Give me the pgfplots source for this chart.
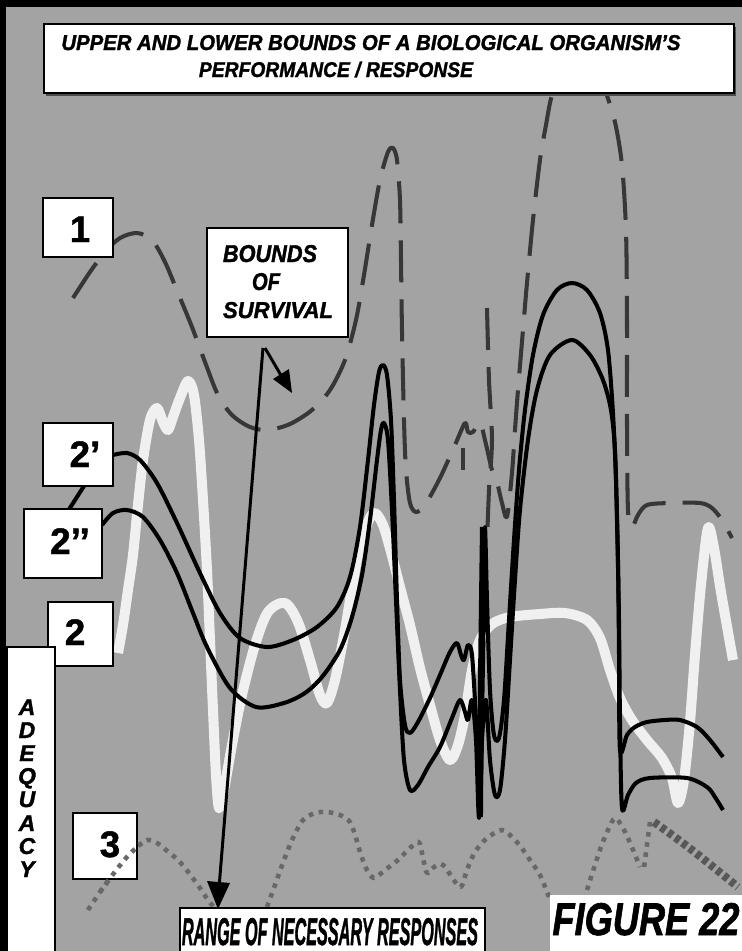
\documentclass[border=0pt]{standalone}
\usepackage{fontspec}
\setmainfont{Liberation Sans}
\newfontfamily\heavyfont{Liberation Sans}[BoldItalicFeatures={FakeBold=1.6}, BoldFeatures={FakeBold=1.2}]
\usepackage{graphicx}
\usepackage{pgfplots}
\pgfplotsset{compat=1.18}

% 1 px of the reference = 0.02 cm
\newlength\pxu \setlength\pxu{0.02cm}
\definecolor{bg}{RGB}{163,163,163}
\definecolor{dashc}{RGB}{55,55,55}
\definecolor{dotc}{RGB}{104,104,104}
\definecolor{pale}{RGB}{240,240,240}
\newcommand{\fit}[3]{\resizebox{#1\pxu}{#2\pxu}{\heavyfont\bfseries\itshape #3}}
\newcommand{\digit}[1]{{\fontsize{21}{21}\selectfont\heavyfont\bfseries #1}}
\newcommand{\lett}[1]{{\fontsize{13}{13}\selectfont\heavyfont\bfseries\itshape #1}}

\begin{document}
\begin{tikzpicture}
\begin{axis}[
    width=14.84cm, height=19.02cm, scale only axis,
    xmin=0, xmax=742, ymin=0, ymax=951, y dir=reverse,
    hide axis, clip=true,
    every axis plot/.append style={smooth, line join=round, mark=none},
  ]
  % background and frame
  \fill[bg] (axis cs:0,0) rectangle (axis cs:742,951);
  \fill[black] (axis cs:0,0) rectangle (axis cs:742,7);
  \fill[black] (axis cs:0,0) rectangle (axis cs:6,951);

  % --- curve 2: white ---
  \addplot[pale, line width=5.7pt] coordinates {
    (118,653) (123,625) (128,590) (133,555) (138,505) (143,460) (150,420)
    (157,408) (163,422) (168,430) (173,417) (180,398) (188,381) (194,395)
    (199,440) (203,500) (207,570) (210,640) (213,710) (216,775) (219,808)
    (224,790) (232,745) (242,695) (255,645) (268,612) (285,603) (298,622)
    (310,660) (320,695) (327,703) (335,680) (345,630) (357,560) (368,522)
    (375,513) (383,525) (391,552) (400,587) (410,625) (420,668) (430,705)
    (440,740) (450,760) (458,745) (465,715) (472,670) (480,640) (492,624)
    (510,617) (540,614) (565,613) (587,620) (600,638) (610,670) (620,698)
    (632,720) (647,740) (662,758) (672,778) (678,803) (684,780) (690,722)
    (695,655) (701,585) (708,528) (714,548) (721,592) (733,660)
  };

  % --- curve 3: dotted ---
  \addplot[dotc, line width=2.6pt, line cap=butt, dash pattern=on 2.6pt off 3.2pt] coordinates {
    (88,910) (100,892) (114,873) (126,858) (137,847) (147,840) (157,843)
    (166,850) (178,860) (189,873) (200,888) (208,900) (218,912)
  };
  \addplot[dotc, line width=2.6pt, line cap=butt, dash pattern=on 2.6pt off 3.2pt] coordinates {
    (267,907) (275,885) (284,860) (293,838) (303,820) (315,813) (327,812)
    (340,815) (350,822) (356,838) (361,855) (367,870) (374,878) (385,870)
    (398,860) (410,848) (419,842) (423,858) (427,873) (434,867) (441,864)
    (446,868) (453,879) (461,887) (467,870) (475,852) (487,838) (502,830)
    (512,837) (521,847) (530,860) (540,875) (549,897)
  };
  \addplot[dotc, line width=2.6pt, line cap=butt, dash pattern=on 2.6pt off 3.2pt] coordinates {
    (587,890) (594,868) (601,847) (608,830) (615,818) (623,828) (631,845) (640,867)
  };
  \addplot[dotc, line width=2.6pt, line cap=butt, dash pattern=on 2.6pt off 3.2pt] coordinates {
    (650,822) (647,845) (644,868)
  };
  \addplot[dotc!85!black, line width=4.6pt, line cap=butt, dash pattern=on 3pt off 2pt] coordinates {
    (654,822) (672,835) (692,850) (712,866) (738,887)
  };

  % --- curve 1: dashed ---
  \addplot[dashc, line width=2.3pt, dash pattern=on 23.9pt off 9.7pt] coordinates {
    (73,298) (90,272) (105,252) (120,238) (137,233) (152,240) (165,262)
    (178,293) (192,327) (205,362) (218,395) (232,415) (250,427) (268,430)
    (290,424) (312,410) (330,390) (345,360) (356,320) (364,275) (372,225)
    (380,180) (388,152) (393,148) (397,160) (400,200) (401,260) (402,330)
    (404,420) (406,470) (410,503) (416,512) (425,505) (440,478) (455,445)
    (465,423) (468,432) (473,432) (480,422) (485,440) (492,470) (497,482)
    (502,503) (507,517) (512,473) (515,430) (518,390) (523,330) (527,283)
    (533,220) (540,160) (546,125) (552,95) (565,62) (578,52) (592,60)
    (605,90) (615,122) (622,165) (626,230) (627,320) (627,420) (628,510)
    (632,527) (638,515) (647,505) (670,503) (700,503) (712,508) (722,520)
    (732,538)
  };
  \addplot[dashc, line width=2.3pt, dash pattern=on 23.9pt off 9.7pt] coordinates {
    (487,308) (489,380) (492,440) (489,490) (487,543)
  };
  \addplot[dashc, line width=2.8pt] coordinates {(463,448) (463,470)};

  % --- curve 2': upper black ---
  \addplot[black, line width=2.3pt] coordinates {
    (113,455) (127,453) (140,460) (157,483) (177,523) (200,573) (220,613)
    (240,638) (267,647) (293,640) (317,627) (337,607) (350,577) (360,527)
    (368,460) (374,405) (379,372) (383,365) (387,375) (391,420) (394,500)
    (397,600) (400,680) (405,725) (410,733) (418,722) (430,698) (440,675)
    (450,652) (457,643) (461,655) (464,660) (468,645) (472,655) (476,720)
    (480,815) (482,720) (484,600) (485,527) (487,600) (490,690) (494,735)
    (499,738) (504,700) (509,620) (514,540) (519,470) (525,410) (533,355)
    (543,315) (557,290) (572,283) (587,290) (600,313) (608,350) (613,413)
    (616,480) (618,560) (619,650) (620,750) (627,735) (635,727) (647,722)
    (665,720) (680,720) (697,727) (710,740) (723,757)
  };
  % --- curve 2'': lower black ---
  \addplot[black, line width=2.3pt] coordinates {
    (102,525) (113,513) (127,510) (143,517) (160,540) (177,573) (193,613)
    (207,647) (230,688) (256,707) (284,703) (305,693) (322,677) (340,650)
    (352,617) (362,575) (370,520) (377,460) (381,430) (384,423) (388,440)
    (392,510) (396,600) (400,690) (404,760) (410,790) (418,785) (428,767)
    (440,747) (452,718) (460,700) (465,712) (468,720) (472,700) (476,740)
    (479,818) (482,740) (486,700) (490,760) (495,795) (500,790) (505,740)
    (510,660) (515,580) (520,510) (528,440) (537,390) (550,355) (572,340)
    (590,355) (603,380) (611,410) (615,450) (617,520) (619,620) (620,720)
    (622,808) (628,795) (636,783) (650,778) (687,778) (707,787) (715,797)
    (723,810)
  };
  \addplot[black, line width=3.4pt] coordinates {(483,527) (481,680) (480,817)};

  % --- arrows ---
  \draw[black, line width=1.7pt] (axis cs:263,348) -- (axis cs:219,888);
  \fill[black] (axis cs:207,881) -- (axis cs:230,883) -- (axis cs:218,909) -- cycle;
  \draw[black, line width=1.7pt] (axis cs:265,348) -- (axis cs:282,377);
  \fill[black] (axis cs:273,379) -- (axis cs:289,369) -- (axis cs:292,393) -- cycle;

  % --- boxes ---
  \fill[black!70] (axis cs:46,27) rectangle (axis cs:736,96);
  \draw[black, line width=0.8pt, fill=white] (axis cs:44,24) rectangle (axis cs:734,93);
  \node[anchor=base, inner sep=0] at (axis cs:371,50) {\fit{619}{15}{UPPER AND LOWER BOUNDS OF A BIOLOGICAL ORGANISM’S}};
  \node[anchor=base, inner sep=0] at (axis cs:336,77) {\fit{274}{15.5}{PERFORMANCE / RESPONSE}};

  \draw[black, line width=0.9pt, fill=white] (axis cs:43,198) rectangle (axis cs:113,257);
  \node[anchor=base, inner sep=0] at (axis cs:80,242) {\digit{1}};

  \draw[black, line width=0.9pt, fill=white] (axis cs:207,228) rectangle (axis cs:348,337);
  \node[anchor=base, inner sep=0] at (axis cs:270,262) {\fit{94}{17}{BOUNDS}};
  \node[anchor=base, inner sep=0] at (axis cs:266,290) {\fit{28}{17}{OF}};
  \node[anchor=base, inner sep=0] at (axis cs:278,318) {\fit{110}{16}{SURVIVAL}};

  \draw[black, line width=2.3pt] (axis cs:84,486) -- (axis cs:68,511);
  \draw[black, line width=0.9pt, fill=white] (axis cs:43,423) rectangle (axis cs:113,486);
  \node[anchor=base, inner sep=0] at (axis cs:85,467) {\digit{2’}};
  \draw[black, line width=0.9pt, fill=white] (axis cs:24,509) rectangle (axis cs:102,578);
  \node[anchor=base, inner sep=0] at (axis cs:70,554) {\digit{2’’}};

  \draw[black, line width=0.9pt, fill=white] (axis cs:48,602) rectangle (axis cs:113,666);
  \node[anchor=base, inner sep=0] at (axis cs:75,645) {\digit{2}};

  \draw[black, line width=0.9pt, fill=white] (axis cs:7,647) rectangle (axis cs:55,955);
  \node[anchor=base, inner sep=0] at (axis cs:27,715) {\lett{A}};
  \node[anchor=base, inner sep=0] at (axis cs:27,738) {\lett{D}};
  \node[anchor=base, inner sep=0] at (axis cs:27,761) {\lett{E}};
  \node[anchor=base, inner sep=0] at (axis cs:27,784) {\lett{Q}};
  \node[anchor=base, inner sep=0] at (axis cs:27,807) {\lett{U}};
  \node[anchor=base, inner sep=0] at (axis cs:27,831) {\lett{A}};
  \node[anchor=base, inner sep=0] at (axis cs:27,854) {\lett{C}};
  \node[anchor=base, inner sep=0] at (axis cs:27,877) {\lett{Y}};

  \draw[black, line width=0.9pt, fill=white] (axis cs:73,813) rectangle (axis cs:137,879);
  \node[anchor=base, inner sep=0] at (axis cs:110,857) {\digit{3}};
  % dotted curve 3 passes over the corner of box 3
  \addplot[dotc, line width=2.6pt, line cap=butt, dash pattern=on 2.6pt off 3.2pt] coordinates {
    (100,892) (114,873) (126,858) (137,847) (142,843)
  };

  \draw[black, line width=0.7pt, fill=white] (axis cs:180,908) rectangle (axis cs:485,960);
  \node[anchor=base, inner sep=0] at (axis cs:330,945) {\fit{296}{27}{RANGE OF NECESSARY RESPONSES}};

  \fill[white] (axis cs:550,895) rectangle (axis cs:750,960);
  \node[anchor=base, inner sep=0] at (axis cs:646,935) {\fit{187}{32}{FIGURE 22}};
\end{axis}
\end{tikzpicture}
\end{document}
